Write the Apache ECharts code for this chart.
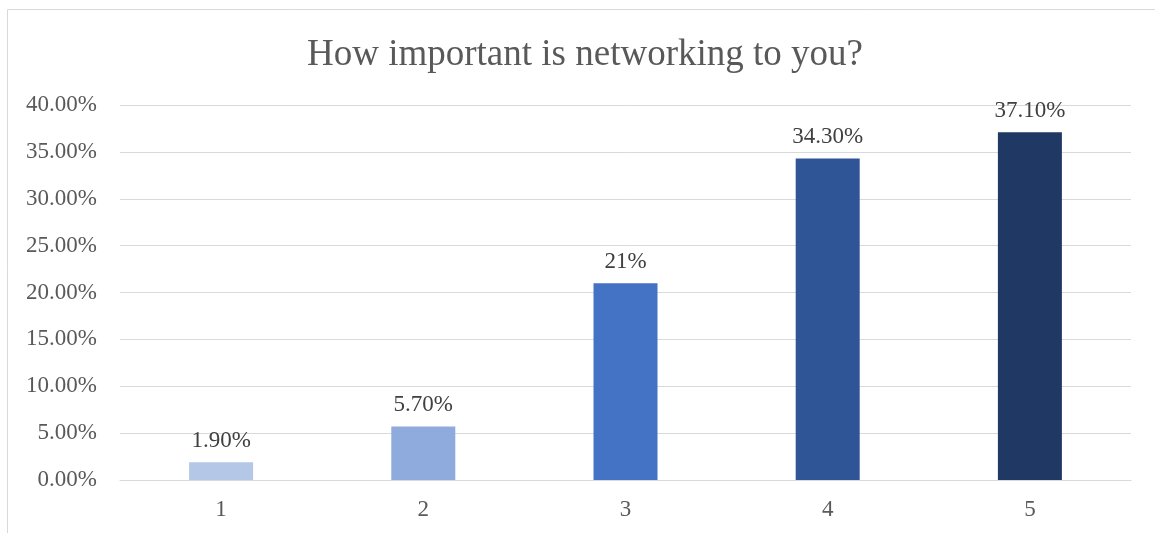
<!DOCTYPE html>
<html>
<head>
<meta charset="utf-8">
<script src="https://cdn.jsdelivr.net/npm/echarts@6/dist/echarts.min.js"></script>
<style>
  html, body { margin: 0; padding: 0; background: #fff; }
  #chart { width: 1155px; height: 533px; }
</style>
</head>
<body>
<div id="chart"></div>
<script>
// Survey answers on a 1-5 scale and the share of respondents for each
const categories = ['1', '2', '3', '4', '5'];
const shares = [1.9, 5.7, 21, 34.3, 37.1];
const valueLabels = ['1.90%', '5.70%', '21%', '34.30%', '37.10%'];
const barColors = ['#B4C7E7', '#8FAADC', '#4472C4', '#2F5597', '#203864'];
const yTicks = { min: 0, max: 40, step: 5 };

const serif = '"Liberation Serif", "Times New Roman", serif';
const chart = echarts.init(document.getElementById('chart'));

chart.setOption({
  animation: false,
  backgroundColor: '#fff',
  graphic: [{
    type: 'rect',
    shape: { x: 7.5, y: 9.5, width: 3000, height: 3000 },
    style: { fill: 'none', stroke: '#d9d9d9', lineWidth: 1 },
    silent: true
  }],
  title: {
    text: 'How important is networking to you?',
    left: 580,
    top: 32,
    textAlign: 'center',
    textStyle: { fontFamily: serif, fontSize: 37, fontWeight: 'normal', color: '#595959' }
  },
  grid: { left: 120, right: 24, top: 105, bottom: 53, containLabel: false },
  xAxis: {
    type: 'category',
    data: categories,
    axisLine: { show: true, lineStyle: { color: '#d9d9d9', width: 1 } },
    axisTick: { show: false },
    axisLabel: { fontFamily: serif, fontSize: 23, color: '#595959', margin: 18 }
  },
  yAxis: {
    type: 'value',
    min: yTicks.min,
    max: yTicks.max,
    interval: yTicks.step,
    axisLine: { show: false },
    axisTick: { show: false },
    splitLine: { lineStyle: { color: '#d9d9d9', width: 1 } },
    axisLabel: {
      fontFamily: serif, fontSize: 23, color: '#595959', margin: 23,
      formatter: v => v.toFixed(2) + '%'
    }
  },
  series: [{
    type: 'bar',
    barWidth: 64,
    data: shares.map((v, i) => ({ value: v, itemStyle: { color: barColors[i] } })),
    label: {
      show: true,
      position: 'top',
      distance: 10,
      fontFamily: serif,
      fontSize: 23,
      color: '#404040',
      formatter: p => valueLabels[p.dataIndex]
    }
  }]
});
</script>
</body>
</html>
